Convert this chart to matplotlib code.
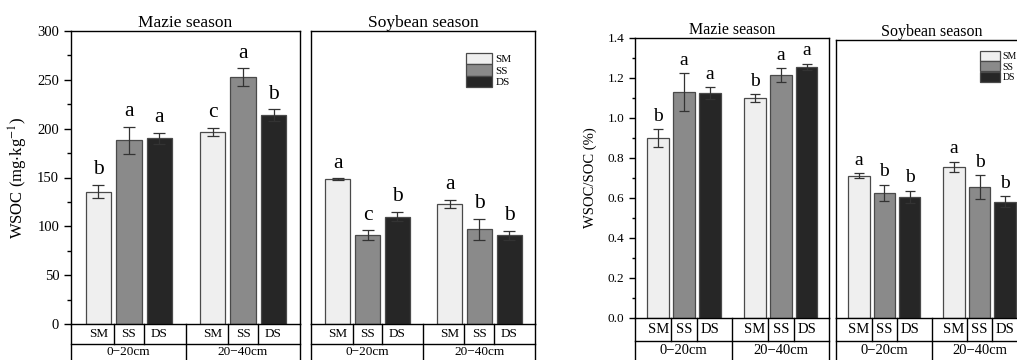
import matplotlib
matplotlib.use("Agg")
import matplotlib.pyplot as plt
from matplotlib.transforms import blended_transform_factory

plt.rcParams["font.family"] = ["Liberation Serif", "DejaVu Serif"]
plt.rcParams["mathtext.fontset"] = "stix"

treatments = ["SM", "SS", "DS"]
depths = ["0\u221220cm", "20\u221240cm"]
colors = ["#efefef", "#8a8a8a", "#262626"]

# WSOC (mg/kg), order: 0-20 SM SS DS, 20-40 SM SS DS
wsoc_maize = [135.5, 188, 190, 197, 253, 214]
wsoc_maize_err = [7, 14, 6, 4, 9, 6]
wsoc_maize_sig = ["b", "a", "a", "c", "a", "b"]
wsoc_soy = [148, 91, 110, 123, 97, 91]
wsoc_soy_err = [1, 5, 5, 4, 11, 4.5]
wsoc_soy_sig = ["a", "c", "b", "a", "b", "b"]

# WSOC/SOC (%)
ratio_maize = [0.898, 1.13, 1.125, 1.10, 1.215, 1.257]
ratio_maize_err = [0.045, 0.095, 0.03, 0.02, 0.035, 0.015]
ratio_maize_sig = ["b", "a", "a", "b", "a", "a"]
ratio_soy = [0.712, 0.627, 0.607, 0.757, 0.653, 0.582]
ratio_soy_err = [0.014, 0.04, 0.03, 0.025, 0.06, 0.028]
ratio_soy_sig = ["a", "b", "b", "a", "b", "b"]

W, H = 1017.0, 360.0
xpos = [0, 1, 2, 3.75, 4.75, 5.75]
XLIM = (-0.9, 6.62)


def px_axes(fig, x0, x1, y0, y1):
    return fig.add_axes([x0 / W, (H - y1) / H, (x1 - x0) / W, (y1 - y0) / H])


def draw_panel(fig, ax, vals, errs, sigs, title, ylim, row_px, fs):
    bars = []
    for i, (x, v, e) in enumerate(zip(xpos, vals, errs)):
        b = ax.bar(x, v, width=0.84, color=colors[i % 3], edgecolor="#4a4a4a",
                   linewidth=0.9, zorder=2)
        ax.errorbar(x, v, yerr=e, color="#333333", elinewidth=0.9,
                    capsize=fs["cap"], capthick=0.9, zorder=3)
        ax.annotate(sigs[i], (x, v + e), xytext=(0, fs["off"]),
                    textcoords="offset points", ha="center", va="bottom",
                    fontsize=fs["sig"])
        bars.append(b)
    ax.set_xlim(*XLIM)
    ax.set_ylim(*ylim)
    ax.set_xticks([])
    ax.set_title(title, fontsize=fs["title"], pad=2)
    for s in ax.spines.values():
        s.set_linewidth(1.0)

    # category table below axes
    tr = blended_transform_factory(ax.transData, fig.transFigure)
    y0, y1, y2 = [(H - p) / H for p in row_px]
    kw = dict(color="black", lw=1.0, transform=tr, clip_on=False)
    ax.plot(XLIM, [y1, y1], **kw)
    for xb in [XLIM[0], XLIM[1]]:
        ax.plot([xb, xb], [y0, y2], **kw)
    for xb in [0.5, 1.5, 4.25, 5.25]:
        ax.plot([xb, xb], [y0, y1], **kw)
    ax.plot([2.875, 2.875], [y0, y2], **kw)
    for i, x in enumerate(xpos):
        ax.text(x, (y0 + y1) / 2, treatments[i % 3], transform=tr, ha="center",
                va="center", fontsize=fs["tab"])
    for x, lab in zip([(XLIM[0] + 2.875) / 2, (2.875 + XLIM[1]) / 2], depths):
        ax.text(x, (y1 + y2) / 2 + 0.008, lab, transform=tr, ha="center",
                va="center", fontsize=fs["tab"])
    return bars


fig = plt.figure(figsize=(W / 100, H / 100), dpi=100)

fs_left = dict(title=12.5, sig=15.5, tab=9.5, cap=4, off=4)
fs_right = dict(title=11.5, sig=14, tab=10.5, cap=3.5, off=3)

# left chart
ax1 = px_axes(fig, 71, 300, 31, 324)
draw_panel(fig, ax1, wsoc_maize, wsoc_maize_err, wsoc_maize_sig,
           "Mazie season", (0, 300), (324, 344, 366), fs_left)
ax1.set_yticks(range(0, 301, 50))
ax1.set_yticks(range(25, 300, 50), minor=True)
ax1.tick_params(axis="y", labelsize=10.5, direction="out", length=5, width=1)
ax1.tick_params(axis="y", which="minor", direction="out", length=3, width=1)
ax1.set_ylabel(r"WSOC (mg$\cdot$kg$^{-1}$)", fontsize=12, labelpad=5)

ax2 = px_axes(fig, 311, 535, 31, 324)
bars = draw_panel(fig, ax2, wsoc_soy, wsoc_soy_err, wsoc_soy_sig,
                  "Soybean season", (0, 300), (324, 344, 366), fs_left)
ax2.set_yticks([])
ax2.legend([bars[0], bars[1], bars[2]], treatments, loc="upper left",
           bbox_to_anchor=(0.69, 0.925), frameon=False, fontsize=8,
           handlelength=2.4, handleheight=1.2, labelspacing=0,
           handletextpad=0.3, borderpad=0, borderaxespad=0)

# right chart
ax3 = px_axes(fig, 635, 829, 38, 318)
draw_panel(fig, ax3, ratio_maize, ratio_maize_err, ratio_maize_sig,
           "Mazie season", (0, 1.4), (318, 341, 366), fs_right)
ax3.set_yticks([i / 10 for i in range(0, 15, 2)])
ax3.set_yticks([i / 10 for i in range(1, 14, 2)], minor=True)
ax3.set_yticklabels(["%.1f" % (i / 10) for i in range(0, 15, 2)])
ax3.tick_params(axis="y", labelsize=9.5, direction="out", length=4, width=1)
ax3.tick_params(axis="y", which="minor", direction="out", length=2.5, width=1)
ax3.set_ylabel("WSOC/SOC (%)", fontsize=10.5, labelpad=8)

ax4 = px_axes(fig, 836, 1027, 40, 318)
bars = draw_panel(fig, ax4, ratio_soy, ratio_soy_err, ratio_soy_sig,
                  "Soybean season", (0, 1.4 * 278 / 280), (318, 341, 366), fs_right)
ax4.set_yticks([])
ax4.legend([bars[0], bars[1], bars[2]], treatments, loc="upper left",
           bbox_to_anchor=(0.754, 0.96), frameon=False, fontsize=7,
           handlelength=2.1, handleheight=1.2, labelspacing=0,
           handletextpad=0.2, borderpad=0, borderaxespad=0)

fig.savefig("out.png", dpi=100)
